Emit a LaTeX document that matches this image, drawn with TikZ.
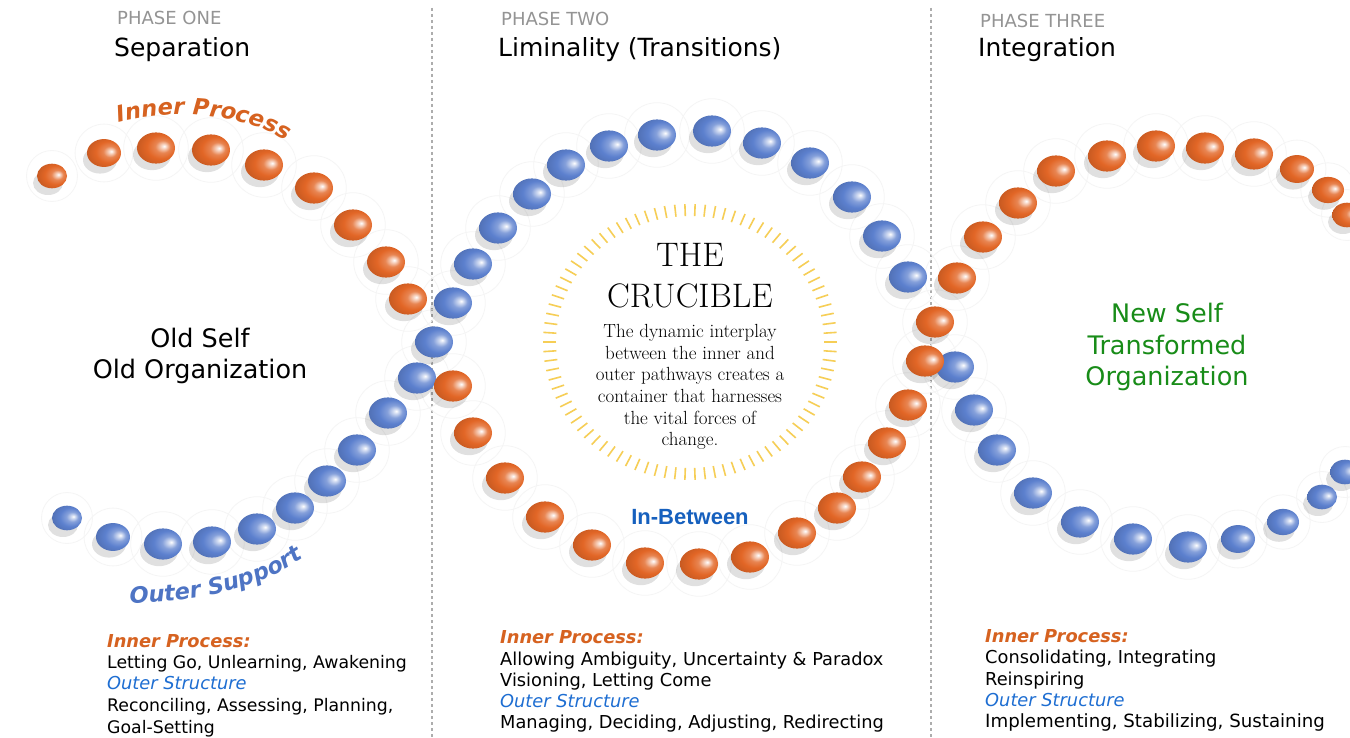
\documentclass[tikz,border=0pt]{standalone}
\usepackage{fontspec}
\newfontfamily\verd{DejaVu Sans}
\newfontfamily\arial{Liberation Sans}
\usetikzlibrary{decorations.text}

\definecolor{beadorange}{RGB}{226,102,38}
\definecolor{beadblue}{RGB}{92,128,206}
\definecolor{procorange}{RGB}{214,98,32}
\definecolor{supblue}{RGB}{78,116,196}
\definecolor{structblue}{RGB}{30,110,210}
\definecolor{inblue}{RGB}{22,96,190}
\definecolor{newgreen}{RGB}{24,140,24}
\definecolor{sungold}{RGB}{246,206,86}

\pgfdeclareradialshading{orangebead}{\pgfpoint{11bp}{3bp}}{%
    color(0bp)=(white);
    color(3bp)=(white!75!beadorange);
    color(10bp)=(beadorange!80!white);
    color(19bp)=(beadorange);
    color(30bp)=(beadorange!88!black);
    color(50bp)=(beadorange!70!black)}
\pgfdeclareradialshading{bluebead}{\pgfpoint{11bp}{3bp}}{%
    color(0bp)=(white);
    color(3bp)=(white!75!beadblue);
    color(10bp)=(beadblue!75!white);
    color(19bp)=(beadblue);
    color(30bp)=(beadblue!88!black);
    color(50bp)=(beadblue!70!black)}

\newcommand\curvefont{\verd\bfseries\itshape\fontsize{22.5}{22.5}\selectfont}

\tikzset{
    phase/.style={anchor=base west, inner sep=0pt, text=black!42, font=\verd\fontsize{18}{18}\selectfont},
    phasename/.style={anchor=base west, inner sep=0pt, font=\verd\fontsize{25}{25}\selectfont},
    selfname/.style={anchor=base, inner sep=0pt, font=\verd\fontsize{25.5}{25.5}\selectfont},
    listhead/.style={anchor=base west, inner sep=0pt, text=procorange, font=\verd\bfseries\itshape\fontsize{17.8}{17.8}\selectfont},
    liststruct/.style={anchor=base west, inner sep=0pt, text=structblue, font=\verd\itshape\fontsize{17.8}{17.8}\selectfont},
    listitem/.style={anchor=base west, inner sep=0pt, font=\verd\fontsize{17.8}{17.8}\selectfont},
    crufont/.style={anchor=base, inner sep=0pt, font=\fontsize{34}{34}\selectfont},
    divider/.style={draw=black!32, line width=2.6pt, dash pattern=on 3pt off 3pt},
    halo/.style={draw=black!4, line width=0.8pt},
    beadshadow/.style={fill=black, opacity=0.12},
    sunray/.style={draw=sungold, line width=1.6pt}
}

\def\bluebeads{67/518/15, 113/537/17, 163/544/19, 212/542/19, 257/529/19, 295/508/19,
    327/481/19, 357/450/19, 388/413/19, 417/378/19, 434/342/19, 453/303/19, 473/264/19,
    498/228/19, 532/194/19, 566/165/19, 609/146/19, 657/135/19, 712/131/19, 762/143/19,
    810/163/19, 852/197/19, 882/236/19, 908/277/19, 955/367/19, 974/410/19, 997/450/19,
    1033/493/19, 1080/522/19, 1133/539/19, 1188/547/19, 1238/539/17, 1283/522/16,
    1322/497/15, 1345/472/15}
\def\orangebeads{52/176/15, 104/153/17, 156/148/19, 211/150/19, 264/165/19, 314/188/19,
    353/225/19, 386/262/19, 408/299/19, 453/386/19, 473/433/19, 505/478/19, 545/517/19,
    592/545/19, 645/563/19, 699/564/19, 750/557/19, 797/533/19, 837/508/19, 862/477/19,
    887/443/19, 908/405/19, 925/361/19, 935/322/19, 957/278/19, 983/237/19, 1018/203/19,
    1056/171/19, 1107/156/19, 1156/146/19, 1205/148/19, 1254/154/19, 1297/169/17,
    1328/190/16, 1347/215/15}

\begin{document}
\begin{tikzpicture}[x=1pt,y=-1pt]
    \fill[white] (0,0) rectangle (1350,738);
    \useasboundingbox (0,0) rectangle (1350,738);
    %% Phase dividers
    \draw[divider] (432,8) -- (432,738);
    \draw[divider] (931,8) -- (931,738);
    %% Headings
    \node[phase] (onehead) at (117,25) {PHASE ONE};
    \node[phasename] (onename) at (114,57) {Separation};
    \node[phase] (twohead) at (501,26) {PHASE TWO};
    \node[phasename] (twoname) at (498,57) {Liminality (Transitions)};
    \node[phase] (threehead) at (980,28) {PHASE THREE};
    \node[phasename] (threename) at (978,57) {Integration};
    %% Crucible rays
    \foreach \a in {0,4,...,356}
        \draw[sunray] (690,342) ++(\a:134pt and 126pt) -- ++(\a:13pt and 12pt);
    %% Beads: halos, shadows, then the two strands
    \foreach \x/\y/\r in \bluebeads
        \draw[halo] (\x,\y) circle [radius=1.7*\r pt];
    \foreach \x/\y/\r in \orangebeads
        \draw[halo] (\x,\y) circle [radius=1.7*\r pt];
    \foreach \x/\y/\r in \bluebeads
        \fill[beadshadow] (\x-4,\y+7) ellipse [x radius=\r pt, y radius={0.8*\r pt}];
    \foreach \x/\y/\r in \orangebeads
        \fill[beadshadow] (\x-4,\y+7) ellipse [x radius=\r pt, y radius={0.8*\r pt}];
    \foreach \x/\y/\r in \bluebeads
        \shade[shading=bluebead] (\x,\y) ellipse [x radius=\r pt, y radius={0.82*\r pt}];
    \foreach \x/\y/\r in \orangebeads
        \shade[shading=orangebead] (\x,\y) ellipse [x radius=\r pt, y radius={0.82*\r pt}];
    %% Strand labels
    \path[decorate, decoration={text along path, text align=center, text color=procorange,
        text={|\curvefont|Inner Process}}] (112,124) .. controls (160,110) and (235,108) .. (292,144);
    \path[decorate, decoration={text along path, text align=center, text color=supblue,
        text={|\curvefont|Outer Support}}] (128,603) .. controls (190,602) and (255,592) .. (305,557);
    %% Selves
    \node[selfname] (oldself) at (200,347) {Old Self};
    \node[selfname] (oldorg) at (200,378) {Old Organization};
    \node[selfname, text=newgreen] (newself) at (1167,323) {New Self};
    \node[selfname, text=newgreen] (newtrans) at (1167,354) {Transformed};
    \node[selfname, text=newgreen] (neworg) at (1167,385) {Organization};
    %% The crucible
    \node[crufont] (the) at (690,267) {THE};
    \node[crufont] (crucible) at (690,307) {CRUCIBLE};
    \node[anchor=north, inner sep=0pt, align=center, font=\fontsize{19}{21.7}\selectfont] (crutext) at (690,324)
        {The dynamic interplay\\between the inner and\\outer pathways creates a\\container that harnesses\\the vital forces of\\change.};
    \node[anchor=base, inner sep=0pt, text=inblue, font=\arial\bfseries\fontsize{22}{22}\selectfont] (between) at (690,524) {In-Between};
    %% Phase one list
    \node[listhead] (oneinner) at (107,647) {Inner Process:};
    \node[listitem, font=\verd\fontsize{17.3}{17.3}\selectfont] (oneitemA) at (107,668) {Letting Go, Unlearning, Awakening};
    \node[liststruct] (oneouter) at (107,689) {Outer Structure};
    \node[listitem, font=\verd\fontsize{17.3}{17.3}\selectfont] (oneitemB) at (107,711) {Reconciling, Assessing, Planning,};
    \node[listitem, font=\verd\fontsize{17.3}{17.3}\selectfont] (oneitemC) at (107,733) {Goal-Setting};
    %% Phase two list
    \node[listhead] (twoinner) at (500,643) {Inner Process:};
    \node[listitem] (twoitemA) at (500,665) {Allowing Ambiguity, Uncertainty \& Paradox};
    \node[listitem] (twoitemB) at (500,686) {Visioning, Letting Come};
    \node[liststruct] (twoouter) at (500,707) {Outer Structure};
    \node[listitem] (twoitemC) at (500,728) {Managing, Deciding, Adjusting, Redirecting};
    %% Phase three list
    \node[listhead] (threeinner) at (985,642) {Inner Process:};
    \node[listitem] (threeitemA) at (985,663) {Consolidating, Integrating};
    \node[listitem] (threeitemB) at (985,685) {Reinspiring};
    \node[liststruct] (threeouter) at (985,706) {Outer Structure};
    \node[listitem, font=\verd\fontsize{18.2}{18.2}\selectfont] (threeitemC) at (985,727) {Implementing, Stabilizing, Sustaining};
\end{tikzpicture}
\end{document}
